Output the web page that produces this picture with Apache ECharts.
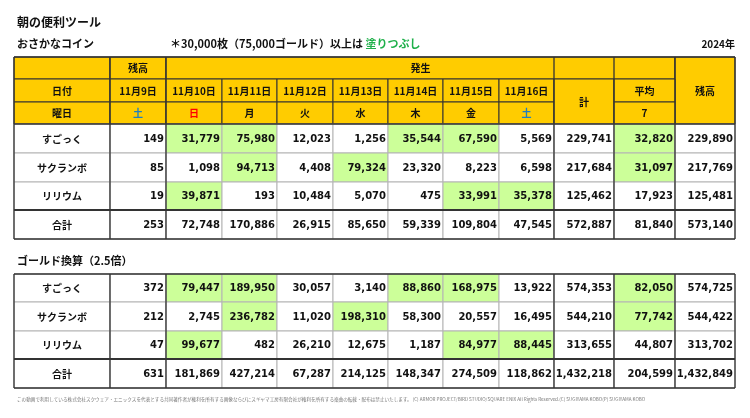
<!DOCTYPE html>
<html lang="ja">
<head>
<meta charset="UTF-8">
<title>朝の便利ツール</title>
<script src="https://cdn.jsdelivr.net/npm/echarts@6/dist/echarts.min.js"></script>
<style>html,body{margin:0;background:#fff}</style>
</head>
<body>
<div id="myChart" style="width:750px;height:418px;"></div>
<script>
// ---- データ ----
var dates = ['11月9日', '11月10日', '11月11日', '11月12日', '11月13日', '11月14日', '11月15日', '11月16日'];
var weekdays = ['土', '日', '月', '火', '水', '木', '金', '土'];
var names = ['すごっく', 'サクランボ', 'リリウム', '合計'];
var avgDays = '7';

// 残高(11/9), 11/10..11/16, 計, 平均, 残高
var coinSugokku   = [149, 31779, 75980, 12023, 1256, 35544, 67590, 5569, 229741, 32820, 229890];
var coinSakuranbo = [85, 1098, 94713, 4408, 79324, 23320, 8223, 6598, 217684, 31097, 217769];
var coinRiriumu   = [19, 39871, 193, 10484, 5070, 475, 33991, 35378, 125462, 17923, 125481];
var coinTotal     = [253, 72748, 170886, 26915, 85650, 59339, 109804, 47545, 572887, 81840, 573140];

var goldSugokku   = [372, 79447, 189950, 30057, 3140, 88860, 168975, 13922, 574353, 82050, 574725];
var goldSakuranbo = [212, 2745, 236782, 11020, 198310, 58300, 20557, 16495, 544210, 77742, 544422];
var goldRiriumu   = [47, 99677, 482, 26210, 12675, 1187, 84977, 88445, 313655, 44807, 313702];
var goldTotal     = [631, 181869, 427214, 67287, 214125, 148347, 274509, 118862, 1432218, 204599, 1432849];

var coinLimit = 30000, goldLimit = 75000;

// ---- レイアウト ----
var colEdges = [14, 110, 166, 222, 277, 333, 388, 443, 499, 554, 614, 675, 735];
var rowEdges1 = [57, 79, 102, 124, 153, 182, 210, 239];
var rowEdges2 = [274, 302, 331, 359, 388];
var YELLOW = '#ffcc00', GREEN = '#ccff99', DARK = '#333', LIGHT = '#b4b4b4';
var JP = '"Noto Sans CJK JP", sans-serif';
var NUMF = 'bold 10px "DejaVu Sans", "Noto Sans CJK JP", sans-serif';
var HEADF = 'bold 10px ' + JP;

var cells = [];
function cell(t, c, r, cs, rs, text, opt) {
  opt = opt || {};
  cells.push({t: t, c: c, r: r, cs: cs, rs: rs, text: text,
    fill: opt.fill || '#fff', color: opt.color || '#111', align: opt.align || 'center',
    font: opt.font || HEADF, stroke: opt.stroke || LIGHT});
}

// ヘッダー
var H = {fill: YELLOW, stroke: DARK};
cell(0, 0, 0, 1, 1, '', H);
cell(0, 1, 0, 1, 1, '残高', H);
cell(0, 2, 0, 9, 1, '発生', H);
cell(0, 11, 0, 1, 3, '残高', H);
cell(0, 0, 1, 1, 1, '日付', H);
cell(0, 0, 2, 1, 1, '曜日', H);
dates.forEach(function (d, i) {
  cell(0, 1 + i, 1, 1, 1, d, H);
  var col = weekdays[i] === '土' ? '#1f7fc0' : (weekdays[i] === '日' ? '#ff0000' : '#111');
  cell(0, 1 + i, 2, 1, 1, weekdays[i], {fill: YELLOW, stroke: DARK, color: col});
});
cell(0, 9, 1, 1, 2, '計', H);
cell(0, 10, 1, 1, 1, '平均', H);
cell(0, 10, 2, 1, 1, avgDays, H);

function bodyRows(t, r0, rows, limit) {
  rows.forEach(function (vals, k) {
    cell(t, 0, r0 + k, 1, 1, names[k], {});
    vals.forEach(function (v, j) {
      var hi = k < 3 && ((j >= 1 && j <= 7) || j === 9) && v >= limit;
      cell(t, 1 + j, r0 + k, 1, 1, v.toLocaleString('en-US'),
        {align: 'right', font: NUMF, fill: hi ? GREEN : '#fff'});
    });
  });
}
bodyRows(0, 3, [coinSugokku, coinSakuranbo, coinRiriumu, coinTotal], coinLimit);
bodyRows(1, 0, [goldSugokku, goldSakuranbo, goldRiriumu, goldTotal], goldLimit);

// 太線
var lines = [];
[rowEdges1, rowEdges2].forEach(function (re, t) {
  var top = re[0], bot = re[re.length - 1];
  [0, 1, 2, 9, 10, 11, 12].forEach(function (c) {
    lines.push([colEdges[c], top, colEdges[c], bot, 1.3]);
  });
  lines.push([colEdges[0], top, colEdges[12], top, 1.5]);
  lines.push([colEdges[0], bot, colEdges[12], bot, 1.5]);
  lines.push([colEdges[0], re[re.length - 2], colEdges[12], re[re.length - 2], 2]);
  if (t === 0) lines.push([colEdges[0], re[3], colEdges[12], re[3], 1.5]);
});

function rowsOf(t) { return t === 0 ? rowEdges1 : rowEdges2; }

var myChart = echarts.init(document.getElementById('myChart'));
var option = {
  animation: false,
  grid: {left: 0, right: 0, top: 0, bottom: 0},
  xAxis: {type: 'value', min: 0, max: 750, show: false},
  yAxis: {type: 'value', min: 0, max: 418, inverse: true, show: false},
  graphic: [
    {type: 'text', left: 17, top: 16, style: {text: '朝の便利ツール', font: 'bold 12px ' + JP, fill: '#111'}},
    {type: 'text', left: 17, top: 38, style: {text: 'おさかなコイン', font: 'bold 11px ' + JP, fill: '#111'}},
    {type: 'text', left: 170, top: 38, style: {
      text: '{a|＊30,000枚（75,000ゴールド）以上は }{g|塗りつぶし}',
      rich: {a: {font: 'bold 11px ' + JP, fill: '#111'}, g: {font: 'bold 11px ' + JP, fill: '#1fb04a'}}}},
    {type: 'text', right: 15, top: 39, style: {text: '2024年', font: 'bold 10px ' + JP, fill: '#111'}},
    {type: 'text', left: 17, top: 255, style: {text: 'ゴールド換算（2.5倍）', font: 'bold 11px ' + JP, fill: '#111'}},
    {type: 'text', left: 17, top: 397, style: {
      text: 'この動画で利用している株式会社スクウェア・エニックスを代表とする共同著作者が権利を所有する画像ならびにスギヤマ工房有限会社が権利を所有する楽曲の転載・配布は禁止いたします。 (C) ARMOR PROJECT/BIRD STUDIO/SQUARE ENIX All Rights Reserved.(C) SUGIYAMA KOBO(P) SUGIYAMA KOBO',
      font: '4.6px ' + JP, fill: '#777'}}
  ],
  series: [
    {
      type: 'custom',
      silent: true,
      data: cells.map(function (c) { return [colEdges[c.c], rowsOf(c.t)[c.r]]; }),
      renderItem: function (params, api) {
        var c = cells[params.dataIndex];
        var re = rowsOf(c.t);
        var p0 = api.coord([colEdges[c.c], re[c.r]]);
        var p1 = api.coord([colEdges[c.c + c.cs], re[c.r + c.rs]]);
        var w = p1[0] - p0[0], h = p1[1] - p0[1];
        return {
          type: 'group',
          children: [
            {type: 'rect', shape: {x: p0[0], y: p0[1], width: w, height: h},
              style: {fill: c.fill, stroke: c.stroke, lineWidth: 1}},
            {type: 'text', style: {
              text: c.text, font: c.font, fill: c.color,
              x: c.align === 'right' ? p1[0] - 2 : p0[0] + w / 2, y: p0[1] + h / 2 + 0.5,
              align: c.align, verticalAlign: 'middle'}}
          ]
        };
      }
    },
    {
      type: 'custom',
      silent: true,
      data: lines,
      renderItem: function (params, api) {
        var a = api.coord([api.value(0), api.value(1)]);
        var b = api.coord([api.value(2), api.value(3)]);
        return {type: 'line', shape: {x1: a[0], y1: a[1], x2: b[0], y2: b[1]},
          style: {stroke: DARK, lineWidth: api.value(4)}};
      }
    }
  ]
};
myChart.setOption(option);
</script>
</body>
</html>
